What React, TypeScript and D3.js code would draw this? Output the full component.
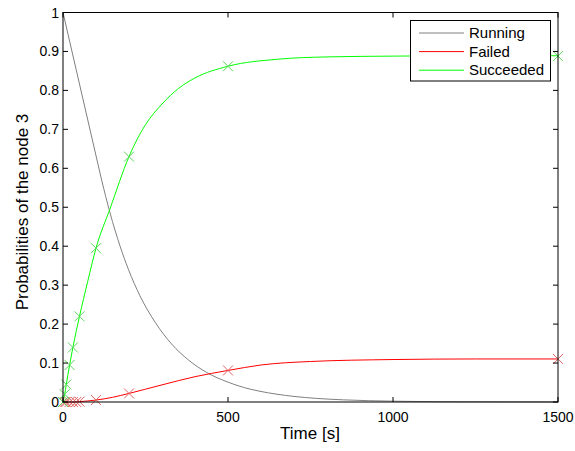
import React from "react";
import * as d3 from "d3";

const W = 575;
const H = 451;

const xTicks = [0, 500, 1000, 1500];
const yTicks = [0, 0.1, 0.2, 0.3, 0.4, 0.5, 0.6, 0.7, 0.8, 0.9, 1];
const yTickLabels = ["0", "0.1", "0.2", "0.3", "0.4", "0.5", "0.6", "0.7", "0.8", "0.9", "1"];

// Running (gray): straight first segment, then smooth decay
const runningHeadT = [0, 117];
const runningHeadV = [1, 0.57];
const runningT = [117, 142, 173, 198, 233, 279, 329, 380, 435, 500, 567, 597, 700, 769, 850, 1000, 1200, 1500];
const runningV = [0.57, 0.487, 0.4, 0.341, 0.273, 0.205, 0.149, 0.108, 0.076, 0.051, 0.033, 0.0275, 0.0143, 0.0092, 0.0055, 0.0021, 0.0006, 0.0001];

// Failed (red)
const failedT = [0, 10, 20, 30, 50, 100, 150, 200, 300, 400, 500, 600, 750, 1000, 1250, 1500];
const failedV = [0, 0, 0, 0, 0.001, 0.005, 0.012, 0.022, 0.044, 0.065, 0.081, 0.095, 0.104, 0.109, 0.1105, 0.1105];
const failedMarkT = [0, 5, 10, 20, 30, 40, 50, 100, 200, 500, 1500];
const failedMarkV = [0, 0, 0, 0, 0, 0, 0.001, 0.005, 0.022, 0.081, 0.1105];

// Succeeded (green)
const succT = [0, 5, 10, 20, 30, 50, 75, 100, 142, 200, 250, 300, 350, 400, 500, 650, 800, 1000, 1250, 1500];
const succV = [0, 0.02, 0.045, 0.095, 0.14, 0.22, 0.31, 0.395, 0.495, 0.63, 0.712, 0.765, 0.805, 0.832, 0.862, 0.88, 0.886, 0.888, 0.889, 0.889];
const succMarkT = [0, 5, 10, 20, 30, 50, 100, 200, 500, 1500];
const succMarkV = [0, 0.02, 0.045, 0.095, 0.14, 0.22, 0.395, 0.63, 0.862, 0.888];

const legendLabels = ["Running", "Failed", "Succeeded"];
const lineColors = ["#808080", "#ff0000", "#00ff00"];
const markColors = ["#808080", "#e26464", "#5cd65c"];

const FONT = "'Liberation Sans', Arial, Helvetica, sans-serif";

export default function App() {
  const left = 63, right = 558, top = 12.5, bottom = 402;
  const x = d3.scaleLinear().domain([0, 1500]).range([left, right]);
  const y = d3.scaleLinear().domain([0, 1]).range([bottom, top]);

  const zip = (ts: number[], vs: number[]) => ts.map((t, i) => [t, vs[i]] as [number, number]);
  const smooth = d3.line<[number, number]>().x(d => x(d[0])).y(d => y(d[1])).curve(d3.curveMonotoneX);
  const straight = d3.line<[number, number]>().x(d => x(d[0])).y(d => y(d[1]));

  const cross = (cx: number, cy: number, color: string, key: string) => {
    const s = 5;
    return (
      <path key={key} d={`M${cx - s},${cy - s}L${cx + s},${cy + s}M${cx - s},${cy + s}L${cx + s},${cy - s}`}
        stroke={color} strokeWidth={1} fill="none" />
    );
  };

  const tl = 5;

  return (
    <svg width={W} height={H} style={{ position: "absolute", left: 0, top: 0, background: "#fff" }}
      fontFamily={FONT}>
      <rect x={0} y={0} width={W} height={H} fill="#fff" />
      <defs>
        <clipPath id="plotclip">
          <rect x={left - 6} y={top - 6} width={right - left + 12} height={bottom - top + 12} />
        </clipPath>
      </defs>

      {/* data lines */}
      <g clipPath="url(#plotclip)">
        <path d={straight(zip(runningHeadT, runningHeadV)) || ""} stroke={lineColors[0]} strokeWidth={1} fill="none" />
        <path d={smooth(zip(runningT, runningV)) || ""} stroke={lineColors[0]} strokeWidth={1} fill="none" />
        <path d={smooth(zip(failedT, failedV)) || ""} stroke={lineColors[1]} strokeWidth={1} fill="none" />
        <path d={smooth(zip(succT, succV)) || ""} stroke={lineColors[2]} strokeWidth={1} fill="none" />
        {failedMarkT.map((t, i) => cross(x(t), y(failedMarkV[i]), markColors[1], "f" + i))}
        {succMarkT.map((t, i) => cross(x(t), y(succMarkV[i]), markColors[2], "s" + i))}
      </g>

      {/* frame */}
      <rect x={left} y={top} width={right - left} height={bottom - top} fill="none" stroke="#000" strokeWidth={1} />

      {/* ticks */}
      {xTicks.map((t, i) => (
        <g key={"xt" + i}>
          <line x1={x(t)} x2={x(t)} y1={bottom} y2={bottom - tl} stroke="#000" />
          <line x1={x(t)} x2={x(t)} y1={top} y2={top + tl} stroke="#000" />
          <text x={x(t)} y={421.5} fontSize={14} textAnchor="middle" fill="#000">{String(t)}</text>
        </g>
      ))}
      {yTicks.map((t, i) => (
        <g key={"yt" + i}>
          <line x1={left} x2={left + tl} y1={y(t)} y2={y(t)} stroke="#000" />
          <line x1={right} x2={right - tl} y1={y(t)} y2={y(t)} stroke="#000" />
          <text x={59} y={y(t)} dy="0.36em" fontSize={14} textAnchor="end" fill="#000">{yTickLabels[i]}</text>
        </g>
      ))}

      {/* axis labels */}
      <text x={310} y={439} fontSize={17} textAnchor="middle" fill="#000">Time [s]</text>
      <text transform={`translate(28,${212}) rotate(-90)`} fontSize={17} textAnchor="middle" fill="#000">
        Probabilities of the node 3
      </text>

      {/* legend */}
      <g>
        <rect x={410.5} y={20.5} width={140} height={60.5} fill="#fff" stroke="#000" strokeWidth={1} />
        {legendLabels.map((lab, i) => {
          const ly = 33 + i * 18.6;
          return (
            <g key={"lg" + i}>
              <line x1={419} x2={464} y1={ly} y2={ly} stroke={lineColors[i]} strokeWidth={1} />
              <text x={469} y={ly} dy="0.35em" fontSize={15} fill="#000">{lab}</text>
            </g>
          );
        })}
      </g>
    </svg>
  );
}
